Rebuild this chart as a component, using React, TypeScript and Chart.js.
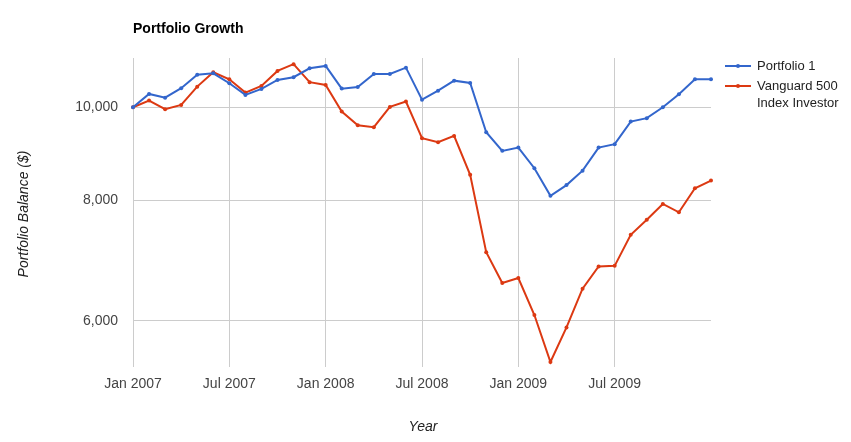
import { useEffect, useRef } from "react";
import { Chart, registerables } from "chart.js";

Chart.register(...registerables);

const categories = [
  "Jan 2007", "Feb 2007", "Mar 2007", "Apr 2007", "May 2007", "Jun 2007",
  "Jul 2007", "Aug 2007", "Sep 2007", "Oct 2007", "Nov 2007", "Dec 2007",
  "Jan 2008", "Feb 2008", "Mar 2008", "Apr 2008", "May 2008", "Jun 2008",
  "Jul 2008", "Aug 2008", "Sep 2008", "Oct 2008", "Nov 2008", "Dec 2008",
  "Jan 2009", "Feb 2009", "Mar 2009", "Apr 2009", "May 2009", "Jun 2009",
  "Jul 2009", "Aug 2009", "Sep 2009", "Oct 2009", "Nov 2009", "Dec 2009",
  "Jan 2010",
];

const portfolio1 = [
  10000, 10323, 10232, 10465, 10810, 10846, 10590, 10299, 10447, 10674, 10744, 10977,
  11038, 10455, 10497, 10828, 10828, 10993, 10183, 10404, 10656, 10598, 9419, 9008,
  9079, 8641, 8091, 8299, 8591, 9079, 9154, 9661, 9741, 10000, 10316, 10692,
  10692,
];

const vanguard500 = [
  10000, 10159, 9952, 10055, 10505, 10872, 10692, 10356, 10522, 10907, 11085, 10617,
  10548, 9895, 9579, 9533, 10007, 10135, 9286, 9198, 9337, 8505, 7069, 6565,
  6645, 6081, 5435, 5904, 6477, 6830, 6841, 7368, 7638, 7933, 7776, 8237,
  8390,
];

const xTickLabels = ["Jan 2007", "Jul 2007", "Jan 2008", "Jul 2008", "Jan 2009", "Jul 2009"];
const yTicks = [6000, 8000, 10000];
const Y_MIN = 5370;
const Y_MAX = 11250;

const seriesNames = ["Portfolio 1", "Vanguard 500 Index Investor"];
const seriesColors = ["#3366CC", "#DC3912"];

const FONT = "Arial, 'Liberation Sans', sans-serif";

const overlayPlugin = {
  id: "overlay",
  afterDraw(chart: any) {
    const ctx = chart.ctx;
    ctx.save();
    // Title
    ctx.fillStyle = "#000000";
    ctx.font = `bold 14px ${FONT}`;
    ctx.textAlign = "left";
    ctx.textBaseline = "middle";
    ctx.fillText("Portfolio Growth", 133, 29);

    // Y axis title
    ctx.fillStyle = "#222222";
    ctx.font = `italic 14px ${FONT}`;
    ctx.save();
    ctx.translate(24, 214);
    ctx.rotate(-Math.PI / 2);
    ctx.textAlign = "center";
    ctx.textBaseline = "middle";
    ctx.fillText("Portfolio Balance ($)", 0, 0);
    ctx.restore();

    // X axis title
    ctx.textAlign = "center";
    ctx.textBaseline = "middle";
    ctx.fillText("Year", 423, 427);

    // Legend
    const legendLines = [["Portfolio 1"], ["Vanguard 500", "Index Investor"]];
    const legendY = [66, 86];
    ctx.font = `13px ${FONT}`;
    ctx.textAlign = "left";
    legendLines.forEach((lines, i) => {
      const y = legendY[i];
      ctx.strokeStyle = seriesColors[i];
      ctx.lineWidth = 2;
      ctx.beginPath();
      ctx.moveTo(725, y);
      ctx.lineTo(751, y);
      ctx.stroke();
      ctx.fillStyle = seriesColors[i];
      ctx.beginPath();
      ctx.arc(738, y, 2, 0, Math.PI * 2);
      ctx.fill();
      ctx.fillStyle = "#222222";
      lines.forEach((t, j) => ctx.fillText(t, 757, y + j * 17));
    });
    ctx.restore();
  },
};

export default function App() {
  const canvasRef = useRef<HTMLCanvasElement | null>(null);

  useEffect(() => {
    document.body.style.margin = "0";
    const canvas = canvasRef.current;
    if (!canvas) return;
    const chart = new Chart(canvas, {
      type: "line",
      data: {
        labels: categories,
        datasets: [
          {
            label: seriesNames[0],
            data: portfolio1,
            borderColor: seriesColors[0],
            backgroundColor: seriesColors[0],
            borderWidth: 2,
            pointRadius: 2,
            pointBorderWidth: 0,
            pointHoverRadius: 2,
            tension: 0,
          },
          {
            label: seriesNames[1],
            data: vanguard500,
            borderColor: seriesColors[1],
            backgroundColor: seriesColors[1],
            borderWidth: 2,
            pointRadius: 2,
            pointBorderWidth: 0,
            pointHoverRadius: 2,
            tension: 0,
          },
        ],
      },
      options: {
        responsive: false,
        animation: false,
        layout: { padding: { top: 58, right: 140, left: 0, bottom: 0 } },
        plugins: {
          legend: { display: false },
          title: { display: false },
          tooltip: { enabled: false },
        },
        scales: {
          x: {
            type: "category",
            offset: false,
            afterFit: (s: any) => {
              s.height = 75;
            },
            border: { display: false },
            grid: {
              drawTicks: false,
              color: (c: any) =>
                xTickLabels.includes(categories[c.index]) ? "#cccccc" : "rgba(0,0,0,0)",
            },
            ticks: {
              autoSkip: false,
              maxRotation: 0,
              minRotation: 0,
              padding: 9,
              color: "#444444",
              font: { family: FONT, size: 14 },
              callback: (_v: any, i: number) =>
                xTickLabels.includes(categories[i]) ? categories[i] : "",
            },
          },
          y: {
            type: "logarithmic",
            min: Y_MIN,
            max: Y_MAX,
            afterBuildTicks: (s: any) => {
              s.ticks = yTicks.map((v) => ({ value: v }));
            },
            afterFit: (s: any) => {
              s.width = 133;
            },
            border: { display: false },
            grid: { drawTicks: false, color: "#cccccc" },
            ticks: {
              autoSkip: false,
              padding: 15,
              color: "#444444",
              font: { family: FONT, size: 14 },
              callback: (v: any) => Number(v).toLocaleString("en-US"),
            },
          },
        },
      },
      plugins: [overlayPlugin],
    });
    return () => chart.destroy();
  }, []);

  return (
    <div style={{ width: 851, height: 442, background: "#ffffff" }}>
      <canvas ref={canvasRef} width={851} height={442} style={{ display: "block" }} />
    </div>
  );
}
